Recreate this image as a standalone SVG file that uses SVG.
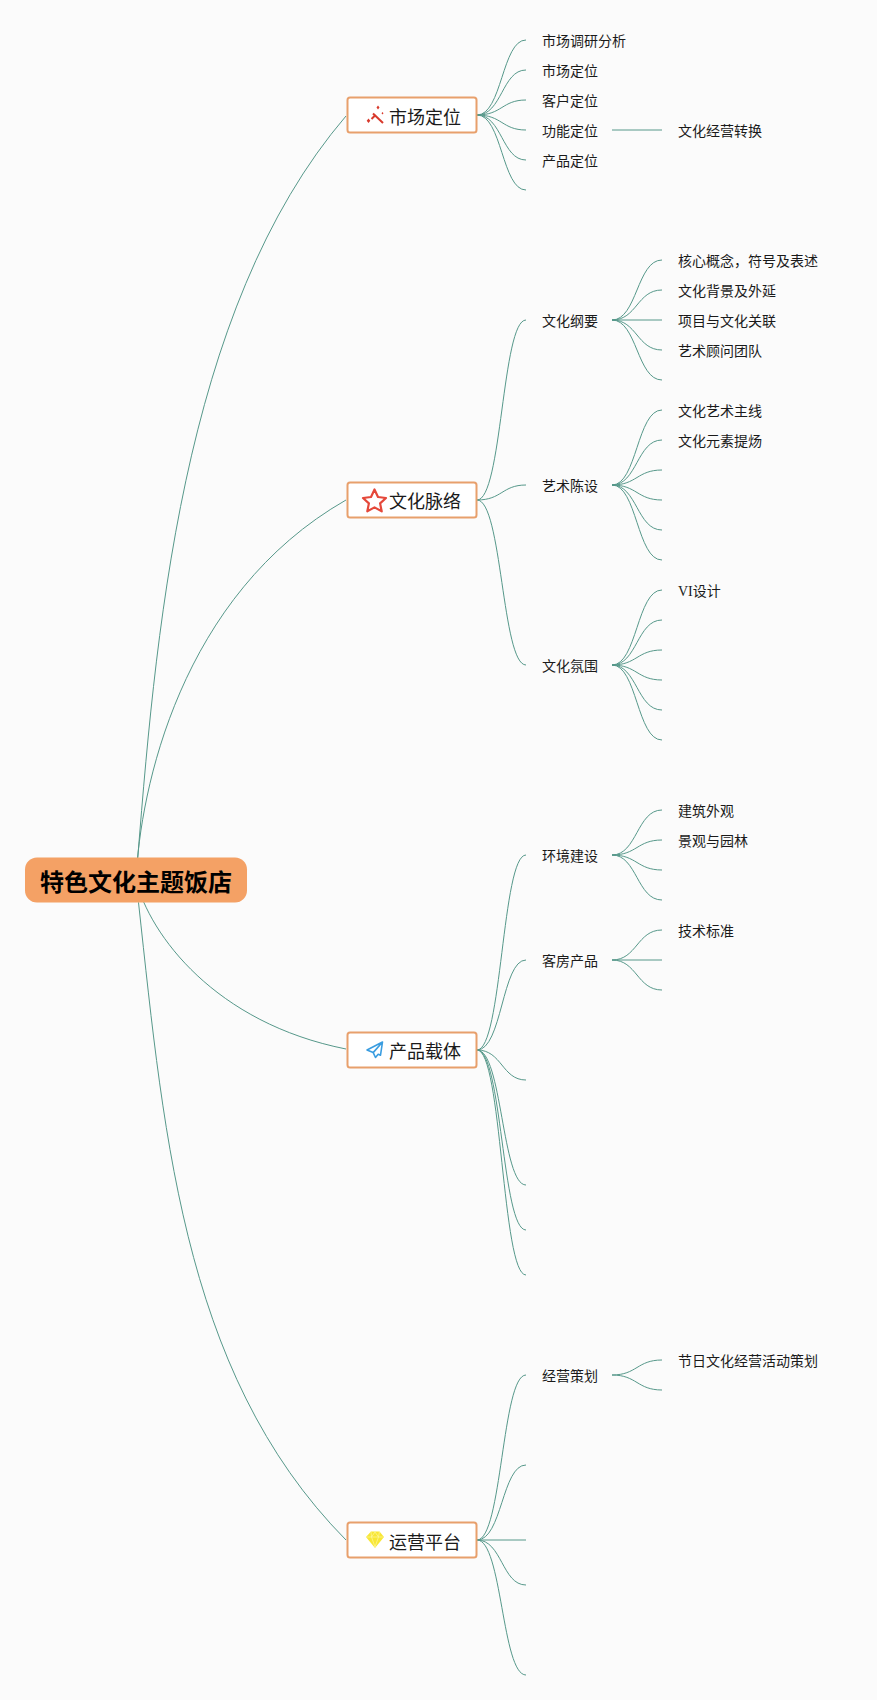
<svg xmlns="http://www.w3.org/2000/svg" width="877" height="1700" viewBox="0 0 877 1700">
<style>
text{font-family:"Noto Sans CJK SC","Noto Sans",sans-serif;fill:#1a1a1a}
.c{fill:none;stroke:#56988a;stroke-width:1}
.b{fill:#fff;stroke:#e8a06c;stroke-width:2}
.t{font-size:18px}
.l{font-size:14px}
.r{font-size:24px;font-weight:700;fill:#000;text-anchor:middle}
.v{font-family:"Liberation Serif",serif}
</style>
<rect width="877" height="1700" fill="#fbfbfb"/>
<g id="connectors">
<path class="c" d="M136 880C155 640 180 310 346 116"/>
<path class="c" d="M136 880C140 790 180 595 346 500"/>
<path class="c" d="M136 880C150 935 215 1023 346 1049"/>
<path class="c" d="M136 880C163 1120 178 1370 346 1540"/>
<path class="c" d="M477 115C502 115 502 40 526 40M477 115C502 115 502 70 526 70M477 115C502 115 502 100 526 100M477 115C502 115 502 130 526 130M477 115C502 115 502 160 526 160M477 115C502 115 502 190 526 190"/>
<path class="c" d="M612 130H662"/>
<path class="c" d="M477 500C502 500 502 320 526 320M477 500C502 500 502 485 526 485M477 500C502 500 502 665 526 665"/>
<path class="c" d="M612 320C637 320 637 260 662 260M612 320C637 320 637 290 662 290M612 320H662M612 320C637 320 637 350 662 350M612 320C637 320 637 380 662 380"/>
<path class="c" d="M612 485C637 485 637 410 662 410M612 485C637 485 637 440 662 440M612 485C637 485 637 470 662 470M612 485C637 485 637 500 662 500M612 485C637 485 637 530 662 530M612 485C637 485 637 560 662 560"/>
<path class="c" d="M612 665C637 665 637 590 662 590M612 665C637 665 637 620 662 620M612 665C637 665 637 650 662 650M612 665C637 665 637 680 662 680M612 665C637 665 637 710 662 710M612 665C637 665 637 740 662 740"/>
<path class="c" d="M477 1050C502 1050 502 855 526 855M477 1050C502 1050 502 960 526 960M477 1050C502 1050 502 1080 526 1080M477 1050C502 1050 502 1185 526 1185M477 1050C502 1050 502 1230 526 1230M477 1050C502 1050 502 1275 526 1275"/>
<path class="c" d="M612 855C637 855 637 810 662 810M612 855C637 855 637 840 662 840M612 855C637 855 637 870 662 870M612 855C637 855 637 900 662 900"/>
<path class="c" d="M612 960C637 960 637 930 662 930M612 960H662M612 960C637 960 637 990 662 990"/>
<path class="c" d="M477 1540C502 1540 502 1375 526 1375M477 1540C502 1540 502 1465 526 1465M477 1540H526M477 1540C502 1540 502 1585 526 1585M477 1540C502 1540 502 1675 526 1675"/>
<path class="c" d="M612 1375C637 1375 637 1360 662 1360M612 1375C637 1375 637 1390 662 1390"/>
</g>
<g id="root"><rect x="25" y="857.5" width="222" height="45" rx="12" fill="#f4a165"/><text class="r" x="136" y="890.5">特色文化主题饭店</text></g>
<g id="node-market"><rect class="b" x="347.5" y="97.5" width="129" height="35" rx="2.5"/>
<path d="M373 113.5L383 123" fill="none" stroke="#d8392c" stroke-width="2"/><path d="M371.5 119L375.5 115" fill="none" stroke="#d8392c" stroke-width="2"/><path d="M368.5 118.5l1.8 2.3-1.8 2.3-1.8-2.3zM378 105.5l1.5 2-1.5 2-1.5-2zM382.5 112l1 1.3-1 1.3-1-1.3z" fill="#d8392c"/>
<text class="t" x="389" y="123.5">市场定位</text></g>
<g id="node-culture"><rect class="b" x="347.5" y="482.5" width="129" height="35" rx="2.5"/>
<path d="M374.5 489.5L378 497 386 498 380.1 503.4 381.7 511.3 374.5 507.4 367.3 511.3 368.9 503.4 363 498 371 497Z" fill="none" stroke="#e5483a" stroke-width="2.2" stroke-linejoin="round"/>
<text class="t" x="389" y="508">文化脉络</text></g>
<g id="node-product"><rect class="b" x="347.5" y="1032.5" width="129" height="35" rx="2.5"/>
<path d="M382.5 1042L367 1050 373.2 1052.6 375.5 1057.5 378.2 1054.2 380.5 1055.2ZM382.5 1042L373.2 1052.6" fill="none" stroke="#3a9de0" stroke-width="1.6" stroke-linejoin="round"/>
<text class="t" x="389" y="1058">产品载体</text></g>
<g id="node-ops"><rect class="b" x="347.5" y="1522.5" width="129" height="35" rx="2.5"/>
<path d="M371 1531.5H379.5L384 1537 375 1548 366 1537Z" fill="#f8e735"/><path d="M366.5 1537H383.5M371 1531.5L371.5 1537 375 1547 378.5 1537 379.5 1531.5M375 1532L371.5 1537M375 1532L378.5 1537" fill="none" stroke="#fdf6a0" stroke-width=".7"/>
<text class="t" x="389" y="1549">运营平台</text></g>
<g id="market-leaves">
<text class="l" x="542" y="45.5">市场调研分析</text>
<text class="l" x="542" y="75.5">市场定位</text>
<text class="l" x="542" y="105.5">客户定位</text>
<text class="l" x="542" y="135.5">功能定位</text>
<text class="l" x="542" y="165.5">产品定位</text>
<text class="l" x="678" y="135.5">文化经营转换</text>
</g>
<g id="culture-leaves">
<text class="l" x="542" y="325.5">文化纲要</text>
<text class="l" x="678" y="265.5">核心概念，符号及表述</text>
<text class="l" x="678" y="295.5">文化背景及外延</text>
<text class="l" x="678" y="325.5">项目与文化关联</text>
<text class="l" x="678" y="355.5">艺术顾问团队</text>
<text class="l" x="542" y="490.5">艺术陈设</text>
<text class="l" x="678" y="415.5">文化艺术主线</text>
<text class="l" x="678" y="445.5">文化元素提炀</text>
<text class="l" x="542" y="670.5">文化氛围</text>
<text class="l" x="678" y="595.5"><tspan class="v">VI</tspan>设计</text>
</g>
<g id="product-leaves">
<text class="l" x="542" y="860.5">环境建设</text>
<text class="l" x="678" y="815.5">建筑外观</text>
<text class="l" x="678" y="845.5">景观与园林</text>
<text class="l" x="542" y="965.5">客房产品</text>
<text class="l" x="678" y="935.5">技术标准</text>
</g>
<g id="ops-leaves">
<text class="l" x="542" y="1380.5">经营策划</text>
<text class="l" x="678" y="1365.5">节日文化经营活动策划</text>
</g>
</svg>
